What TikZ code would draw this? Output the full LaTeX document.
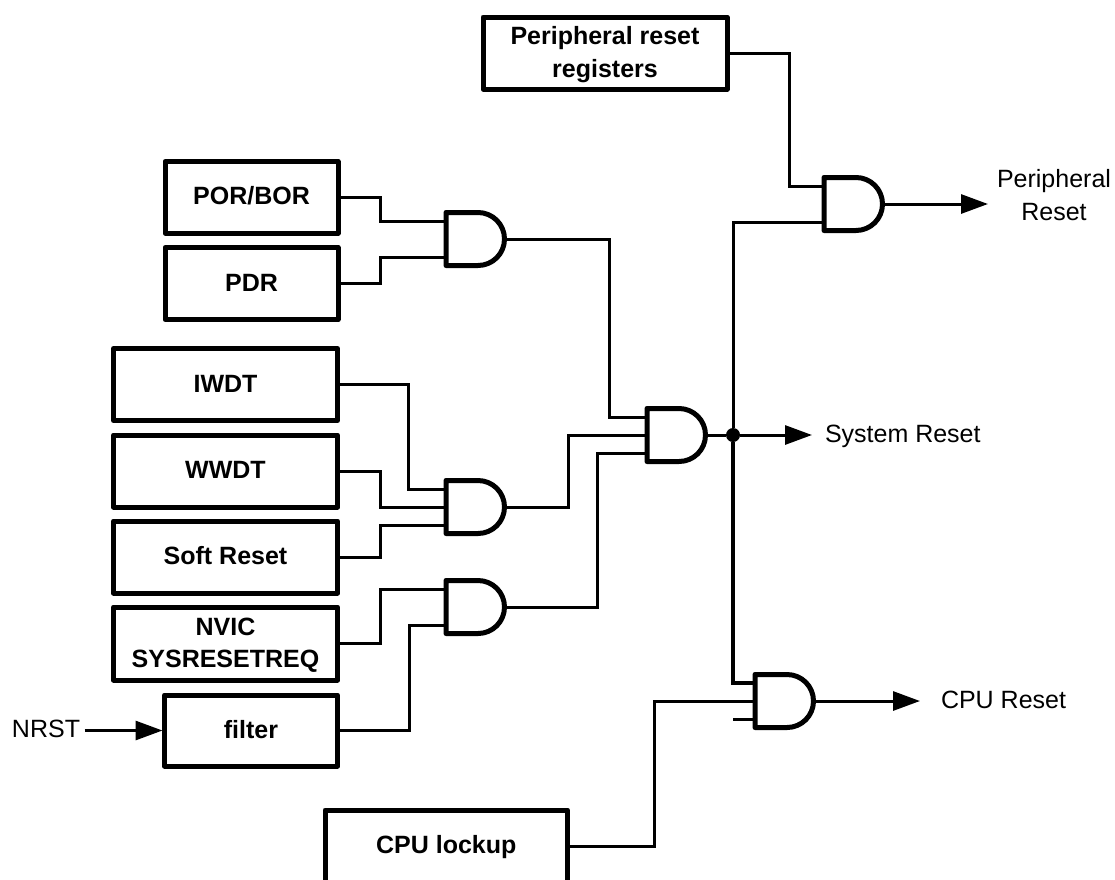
\documentclass[tikz,border=0pt]{standalone}
\usepackage{fontspec}
\setmainfont{Liberation Sans}
\usetikzlibrary{arrows.meta,calc}
\tikzset{
  blockbox/.style={draw=black,line width=5pt,line join=round,fill=white,inner sep=0pt,outer sep=0pt,align=center,
    font=\fontsize{25}{32.5}\selectfont\bfseries},
  oneline/.style={text height=18pt,text depth=3pt},
  gatebox/.style={inner sep=0pt,outer sep=0pt,minimum width=58.5pt,minimum height=53pt},
  gateline/.style={draw=black,line width=5pt,line join=round},
  wire/.style={draw=black,line width=3pt,line join=miter},
  bus/.style={draw=black,line width=3.5pt,line join=miter},
  arrowwire/.style={wire,-{Triangle[length=27pt,width=19pt]}},
  sigtext/.style={inner sep=0pt,outer sep=0pt,align=center,font=\fontsize{25}{33}\selectfont},
  junction/.style={circle,fill=black,inner sep=0pt,minimum size=14pt}
}
\newcommand{\andgate}[3]{%
  \node[gatebox] (#1) at (#2+29.25,#3) {};
  \coordinate (#1-a) at ($(#1.west)+(0,-18)$);
  \coordinate (#1-b) at (#1.west);
  \coordinate (#1-c) at ($(#1.west)+(0,18)$);
  \draw[gateline] (#1.north west) -- ($(#1.north east)+(-26.5,0)$)
     arc[start angle=90,end angle=-90,radius=26.5pt] -- (#1.south west) -- cycle;
}
\begin{document}
\begin{tikzpicture}[x=1pt,y=-1pt]
\useasboundingbox (0,0) rectangle (1115,879);
\clip (0,0) rectangle (1115,879);
% blocks
\node[blockbox,minimum width=244pt,minimum height=72pt] (prr) at (605,53) {\rule{0pt}{21pt}Peripheral reset\\registers};
\node[blockbox,oneline,minimum width=173pt,minimum height=71.5pt] (por) at (251.5,197.25) {POR/BOR};
\node[blockbox,oneline,minimum width=173pt,minimum height=72pt] (pdr) at (251.5,283.5) {PDR};
\node[blockbox,oneline,minimum width=224pt,minimum height=72pt] (iwdt) at (225.5,384.5) {IWDT};
\node[blockbox,oneline,minimum width=224pt,minimum height=72pt] (wwdt) at (225.5,471) {WWDT};
\node[blockbox,oneline,minimum width=224pt,minimum height=72pt] (soft) at (225.5,557) {Soft Reset};
\node[blockbox,minimum width=224pt,minimum height=73pt] (nvic) at (225.5,643.5) {\rule{0pt}{21pt}NVIC\\SYSRESETREQ};
\node[blockbox,oneline,minimum width=173pt,minimum height=71pt] (filter) at (251,730.5) {filter};
\node[blockbox,oneline,minimum width=242.5pt,minimum height=72pt] (cpu) at (446.25,846) {CPU lockup};
% gates
\andgate{gA}{446}{239}
\andgate{gB}{446}{507}
\andgate{gC}{446}{607}
\andgate{gD}{647}{435}
\andgate{gE}{755}{701}
\andgate{gF}{824}{204}
\node[junction] (dot) at (733,435) {};
% labels
\node[sigtext,anchor=west] (nrst) at (12,729) {NRST};
\node[sigtext,anchor=west] (sysr) at (825,436) {System Reset};
\node[sigtext,anchor=west] (cpur) at (941,700) {CPU Reset};
\node[sigtext] (perr) at (1054,195.5) {Peripheral\\Reset};
\coordinate (tipS) at (812,435);
\coordinate (tipC) at (920,701);
\coordinate (tipP) at (988,204);
% connectors
\draw[wire] (por.east) -- ++(42,0) |- (gA-a);
\draw[wire] (pdr.east) -- ++(42,0) |- (gA-c);
\draw[wire] (iwdt.east) -- ++(71,0) |- (gB-a);
\draw[wire] (wwdt.east) -- ++(42.5,0) |- (gB-b);
\draw[wire] (soft.east) -- ++(42.5,0) |- (gB-c);
\draw[wire] (nvic.east) -- ++(42.5,0) |- (gC-a);
\draw[wire] (filter.east) -- ++(71.5,0) |- (gC-c);
\draw[wire] (gA.east) -- ++(105,0) |- (gD-a);
\draw[wire] (gB.east) -- ++(63.5,0) |- (gD-b);
\draw[wire] (gC.east) -- ++(92.5,0) |- (gD-c);
\draw[wire] (prr.east) -- ++(62.5,0) |- (gF-a);
\draw[wire] (gD.east) -- (dot);
\draw[wire] (gF-c) -| (dot);
\draw[bus] (gE-a) -| (dot);
\draw[wire] (gE-c) -- ++(-22,0);
\draw[wire] (cpu.east) -- ++(86.5,0) |- (gE-b);
\draw[arrowwire] (dot) -- (tipS);
\draw[arrowwire] (gE.east) -- (tipC);
\draw[arrowwire] (gF.east) -- (tipP);
\draw[arrowwire,shorten <=4.5pt,shorten >=2pt] (nrst.east |- filter.west) -- (filter.west);
\end{tikzpicture}
\end{document}
